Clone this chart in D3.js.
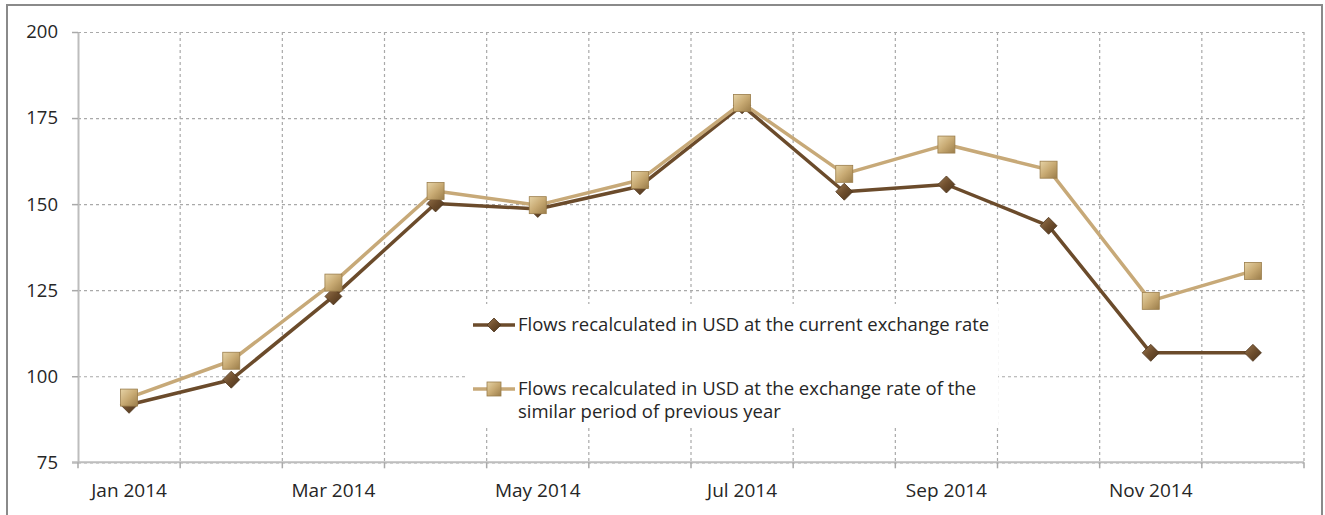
<!DOCTYPE html>
<html>
<head>
<meta charset="utf-8">
<script src="https://cdn.jsdelivr.net/npm/d3@7"></script>
<style>
  html, body { margin: 0; padding: 0; background: #fff; }
  svg { display: block; }
  text { font-family: "Open Sans", "Lato", sans-serif; fill: #262626; }
</style>
</head>
<body>
<svg id="chart" width="1325" height="515"></svg>
<script>
// ---- data ----
const months = ["Jan 2014","Feb 2014","Mar 2014","Apr 2014","May 2014","Jun 2014",
                "Jul 2014","Aug 2014","Sep 2014","Oct 2014","Nov 2014","Dec 2014"];
const shownLabels = ["Jan 2014","Mar 2014","May 2014","Jul 2014","Sep 2014","Nov 2014"];
const currentRate = [91.7, 99.0, 123.2, 150.2, 148.6, 155.2, 178.7, 153.6, 155.7, 143.7, 106.8, 106.8];
const previousYearRate = [93.8, 104.5, 127.2, 153.8, 149.7, 157.0, 179.4, 158.8, 167.3, 160.0, 121.9, 130.6];
const yTicks = [75, 100, 125, 150, 175, 200];
const seriesNames = ["Flows recalculated in USD at the current exchange rate",
                     "Flows recalculated in USD at the exchange rate of the|similar period of previous year"];

(function () {
// ---- layout ----
const svg = d3.select("#chart");
const pL = 78, pR = 1304, pT = 32, pB = 462.3;

// frame
svg.append("rect").attr("x", 7).attr("y", 5).attr("width", 1315).attr("height", 540)
  .attr("fill", "none").attr("stroke", "#8a8a8a").attr("stroke-width", 2);

const x = d3.scaleBand().domain(months).range([pL, pR]).padding(0);
const y = d3.scaleLinear().domain([75, 200]).range([pB, pT]);
const cx = m => x(m) + x.bandwidth() / 2;

// defs: gradients for markers
const defs = svg.append("defs");
const gSq = defs.append("linearGradient").attr("id", "gSq")
  .attr("x1", "0").attr("y1", "0").attr("x2", "1").attr("y2", "1");
gSq.append("stop").attr("offset", "0%").attr("stop-color", "#e6d3a6");
gSq.append("stop").attr("offset", "50%").attr("stop-color", "#c8aa73");
gSq.append("stop").attr("offset", "100%").attr("stop-color", "#9b7d4a");
const gDi = defs.append("linearGradient").attr("id", "gDi")
  .attr("x1", "0").attr("y1", "0").attr("x2", "1").attr("y2", "1");
gDi.append("stop").attr("offset", "0%").attr("stop-color", "#9a7750");
gDi.append("stop").attr("offset", "50%").attr("stop-color", "#6e4e2d");
gDi.append("stop").attr("offset", "100%").attr("stop-color", "#4a321b");

// horizontal gridlines
const hGrid = svg.append("g").attr("transform", `translate(${pL},0)`)
  .call(d3.axisLeft(y).tickValues(yTicks).tickSize(-(pR - pL)).tickFormat(""));
hGrid.select(".domain").remove();
hGrid.selectAll("line").attr("stroke", "#a9a9a9").attr("stroke-width", 1.2)
  .attr("stroke-dasharray", "3,3");

// vertical gridlines at band boundaries
const bounds = months.map(m => x(m)).slice(1).concat([x.range()[1]]);
svg.append("g").selectAll("line").data(bounds).join("line")
  .attr("x1", d => d).attr("x2", d => d).attr("y1", pT).attr("y2", pB)
  .attr("stroke", "#a9a9a9").attr("stroke-width", 1.2).attr("stroke-dasharray", "3,3");

// y axis
const yAxis = svg.append("g").attr("transform", `translate(${pL},0)`)
  .call(d3.axisLeft(y).tickValues(yTicks).tickSize(6).tickPadding(14).tickSizeOuter(0));
yAxis.select(".domain").attr("stroke", "#bdbdbd").attr("stroke-width", 2);
yAxis.selectAll(".tick line").attr("stroke", "#a9a9a9").attr("stroke-width", 1.5);
yAxis.selectAll("text").style("font-size", "18.5px").attr("fill", "#262626");

// x axis line and boundary ticks
svg.append("line").attr("x1", pL - 6).attr("x2", pR).attr("y1", pB).attr("y2", pB)
  .attr("stroke", "#bdbdbd").attr("stroke-width", 2);
svg.append("g").selectAll("line").data([x.range()[0]].concat(bounds)).join("line")
  .attr("x1", d => d).attr("x2", d => d).attr("y1", pB).attr("y2", pB + 6)
  .attr("stroke", "#a9a9a9").attr("stroke-width", 1.5);

// x labels
const xAxis = svg.append("g").attr("transform", `translate(0,${pB})`)
  .call(d3.axisBottom(x).tickValues(shownLabels).tickSize(0).tickPadding(0));
xAxis.select(".domain").remove();
xAxis.selectAll("text").attr("y", 35).attr("dy", 0).style("font-size", "19px").attr("fill", "#262626");

// legend background (white box over gridlines)
const legendG = svg.append("g");
legendG.append("rect").attr("x", 466).attr("y", 304).attr("width", 532).attr("height", 124).attr("fill", "#fff");

// lines
const line = d3.line().x((d, i) => cx(months[i])).y(d => y(d));
function diamond(sel, s) {
  sel.attr("d", `M0,${-s}L${s},0L0,${s}L${-s},0Z`);
}

// series 1: current rate
svg.append("path").datum(currentRate).attr("d", line)
  .attr("fill", "none").attr("stroke", "#6b4b2b").attr("stroke-width", 3.5).attr("stroke-linejoin", "round");
svg.append("g").selectAll("path").data(currentRate).join("path")
  .attr("transform", (d, i) => `translate(${cx(months[i])},${y(d)})`)
  .call(diamond, 8.5)
  .attr("fill", "url(#gDi)").attr("stroke", "#4f361e").attr("stroke-width", 0.8);

// series 2: previous year rate
svg.append("path").datum(previousYearRate).attr("d", line)
  .attr("fill", "none").attr("stroke", "#c7a978").attr("stroke-width", 3.5).attr("stroke-linejoin", "round");
svg.append("g").selectAll("rect").data(previousYearRate).join("rect")
  .attr("x", (d, i) => cx(months[i]) - 8.5).attr("y", d => y(d) - 8.5)
  .attr("width", 17).attr("height", 17)
  .attr("fill", "url(#gSq)").attr("stroke", "#9a7d4b").attr("stroke-width", 0.8);

// legend entries
const legY = [325, 389];
legendG.append("line").attr("x1", 473).attr("x2", 515).attr("y1", legY[0]).attr("y2", legY[0])
  .attr("stroke", "#6b4b2b").attr("stroke-width", 3.5);
legendG.append("path").attr("transform", `translate(494,${legY[0]})`).call(diamond, 7)
  .attr("fill", "url(#gDi)").attr("stroke", "#4f361e").attr("stroke-width", 0.8);
legendG.append("text").attr("x", 518).attr("y", legY[0]).attr("dy", "0.35em")
  .style("font-size", "18.5px").text(seriesNames[0]);
legendG.append("line").attr("x1", 473).attr("x2", 515).attr("y1", legY[1]).attr("y2", legY[1])
  .attr("stroke", "#c7a978").attr("stroke-width", 3.5);
legendG.append("rect").attr("x", 487).attr("y", legY[1] - 7).attr("width", 14).attr("height", 14)
  .attr("fill", "url(#gSq)").attr("stroke", "#9a7d4b").attr("stroke-width", 0.8);
seriesNames[1].split("|").forEach((s, i) => {
  legendG.append("text").attr("x", 518).attr("y", legY[1] + i * 22.5).attr("dy", "0.35em")
    .style("font-size", "18.5px").text(s);
});
})();
</script>
</body>
</html>
